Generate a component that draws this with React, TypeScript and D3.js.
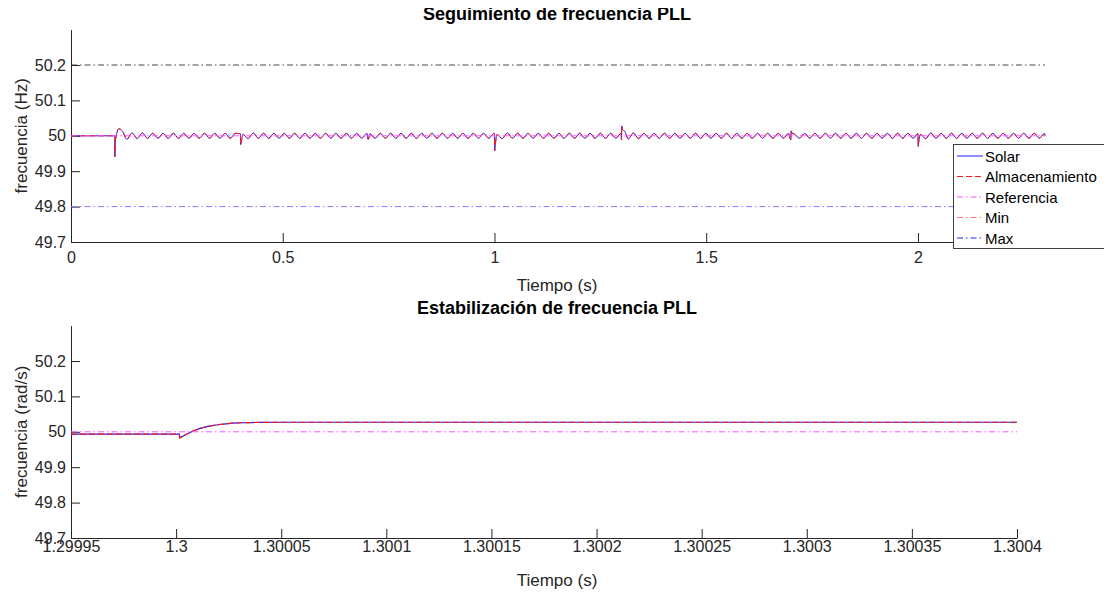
import React, { useEffect, useRef } from "react";
import * as d3 from "d3";

// ---- top panel: PLL frequency tracking ----
const topXTicks = [0, 0.5, 1, 1.5, 2];
const topXLabels = ["0", "0.5", "1", "1.5", "2"];
const yTicks = [49.7, 49.8, 49.9, 50, 50.1, 50.2];
const yTickLabels = ["49.7", "49.8", "49.9", "50", "50.1", "50.2"];

const referenceHz = 50;
const minLimitHz = 49.8;
const maxLimitHz = 50.2;

// disturbances seen on the trace (s) and their shape as [dt s, deviation mHz]
const disturbanceTimes = [0.1, 0.4, 0.7, 1.0, 1.3, 1.7, 2.0];
const disturbanceShapes: [number, number][][] = [
  [[0, 0], [0.0035, 0], [0.0036, -59], [0.0045, -15], [0.0135, 20], [0.022, 12], [0.032, -10]],
  [[0, 6], [0.0005, -25], [0.0015, -20], [0.006, 4]],
  [[0, -4], [0.002, -10], [0.006, 6]],
  [[0, 6], [0.0005, -42], [0.0015, -30], [0.006, 4]],
  [[0, -12], [0.0005, 28], [0.002, 18], [0.008, 12], [0.016, -9]],
  [[0, -12], [0.0005, 14], [0.002, 8], [0.008, 5]],
  [[0, 6], [0.0005, -30], [0.0015, -20], [0.006, 4]],
];
const halfPeriod = 0.0122; // time between turning points of the ripple (s)
// ripple turning points after each disturbance (mHz around 50 Hz)
const rippleSegments: number[][] = [
  [8, -8, 8, -7, 7, -7, 7, -7, 7, -7, 7, -7, 7, -7, 7, -7, 7, -7, 7, -7, 7, -7, 7, -7],
  [-8, 8, -7, 7, -7, 7, -7, 7, -7, 7, -7, 7, -7, 7, -7, 7, -7, 7, -7, 7, -7, 7, -7, 7],
  [-7, 7, -7, 7, -7, 7, -7, 7, -7, 7, -7, 7, -7, 7, -7, 7, -7, 7, -7, 7, -7, 7, -7, 7],
  [-8, 8, -7, 7, -7, 7, -7, 7, -7, 7, -7, 7, -7, 7, -7, 7, -7, 7, -7, 7, -7, 7, -7, 7],
  [8, -8, 7, -7, 7, -7, 7, -7, 7, -7, 7, -7, 7, -7, 7, -7, 7, -7, 7, -7, 7, -7, 7, -7, 7, -7, 7, -7, 7, -7, 7, -7],
  [-7, 7, -7, 7, -7, 7, -7, 7, -7, 7, -7, 7, -7, 7, -7, 7, -7, 7, -7, 7, -7, 7, -7, 7],
  [-8, 8, -7, 7, -7, 7, -7, 7, -7, 7, -7, 7, -7, 7, -7, 7, -7, 7, -7, 7, -7, 7, -7, 7, -7],
];
const topEnd = 2.3;

// ---- bottom panel: zoom on the 1.3 s disturbance ----
const bottomXTicks = [1.29995, 1.3, 1.30005, 1.3001, 1.30015, 1.3002, 1.30025, 1.3003, 1.30035, 1.3004];
const bottomXLabels = ["1.29995", "1.3", "1.30005", "1.3001", "1.30015", "1.3002", "1.30025", "1.3003", "1.30035", "1.3004"];
const zoomTime = [1.29995, 1.3, 1.3000015, 1.3000018, 1.300004, 1.3000076, 1.300011, 1.3000156, 1.30002, 1.3000236, 1.300027, 1.3000311, 1.300035, 1.3000392, 1.30005, 1.3004];
const zoomSolar = [49.9935, 49.9935, 49.9935, 49.983, 49.99, 50.001, 50.009, 50.016, 50.02, 50.0225, 50.0245, 50.0255, 50.026, 50.0265, 50.027, 50.027];
const zoomStorage = zoomSolar; // storage trace lies on the solar one

const legendNames = ["Solar", "Almacenamiento", "Referencia", "Min", "Max"];
const legendColors = ["#1a1aff", "#ff1a1a", "#ff55ff", "#ff7a7a", "#2020ff"];
const legendDashes = ["none", "6,3", "6,3,1.5,3", "6,3,1.5,3", "6,3,1.5,3"];

function buildTopTrace(): [number, number][] {
  const pts: [number, number][] = [[0, referenceHz], [disturbanceTimes[0], referenceHz]];
  disturbanceTimes.forEach((t0, i) => {
    const shape = disturbanceShapes[i];
    shape.forEach(([dt, d]) => pts.push([t0 + dt, referenceHz + d / 1000]));
    let t = t0 + shape[shape.length - 1][0];
    const end = i + 1 < disturbanceTimes.length ? disturbanceTimes[i + 1] : topEnd;
    for (const d of rippleSegments[i]) {
      t += halfPeriod;
      if (t >= end) break;
      pts.push([t, referenceHz + d / 1000]);
    }
  });
  pts.push([topEnd, referenceHz]);
  return pts;
}

const FONT = "'Liberation Sans', Arial, Helvetica, sans-serif";
const AX = "#262626";

export default function App() {
  const svgRef = useRef<SVGSVGElement>(null);

  useEffect(() => {
    const svg = d3.select(svgRef.current);
    svg.selectAll("*").remove();
    svg.append("rect").attr("width", 1112).attr("height", 593).attr("fill", "#fff");

    const drawPanel = (opts: {
      x: d3.ScaleLinear<number, number>;
      y: d3.ScaleLinear<number, number>;
      xTicks: number[];
      xLabels: string[];
      xPad: number;
      title: string;
      titleY: number;
      xLabelY: number;
      yLabel: string;
    }) => {
      const { x, y } = opts;
      const g = svg.append("g");
      const [x0] = x.range();
      const y0 = y.range()[0];

      const xa = g.append("g")
        .attr("transform", `translate(0, ${y0})`)
        .call(d3.axisBottom(x).tickValues(opts.xTicks).tickFormat((_, i) => opts.xLabels[i])
          .tickSizeInner(-9).tickSizeOuter(0).tickPadding(opts.xPad));
      const ya = g.append("g")
        .attr("transform", `translate(${x0}, 0)`)
        .call(d3.axisLeft(y).tickValues(yTicks).tickFormat((_, i) => yTickLabels[i])
          .tickSizeInner(-9).tickSizeOuter(0).tickPadding(5));
      [xa, ya].forEach(a => {
        a.selectAll("path,line").attr("stroke", AX);
        a.selectAll("text").attr("fill", AX).attr("font-size", 16).attr("font-family", FONT);
      });

      g.append("text")
        .attr("x", 557).attr("y", opts.titleY)
        .attr("text-anchor", "middle").attr("font-weight", "bold")
        .attr("font-size", 18).attr("font-family", FONT).attr("fill", "#000")
        .text(opts.title);
      g.append("text")
        .attr("x", 557).attr("y", opts.xLabelY)
        .attr("text-anchor", "middle").attr("font-size", 17).attr("font-family", FONT).attr("fill", AX)
        .text("Tiempo (s)");
      g.append("text")
        .attr("transform", `translate(27, ${y(50)}) rotate(-90)`)
        .attr("text-anchor", "middle").attr("font-size", 17).attr("font-family", FONT).attr("fill", AX)
        .text(opts.yLabel);
      return g;
    };

    // ---------- top panel ----------
    const xTop = d3.scaleLinear().domain([0, topEnd]).range([71, 1045]);
    const yTop = d3.scaleLinear().domain([49.7, 50.3]).range([242, 29.6]);
    const gTop = drawPanel({
      x: xTop, y: yTop, xTicks: topXTicks, xLabels: topXLabels, xPad: 10,
      title: "Seguimiento de frecuencia PLL", titleY: 20, xLabelY: 291,
      yLabel: "frecuencia (Hz)",
    });

    const lineTop = d3.line<[number, number]>().x(d => xTop(d[0])).y(d => yTop(d[1]));
    const traceLine = d3.line<[number, number]>().x(d => xTop(d[0])).y(d => yTop(d[1])).curve(d3.curveMonotoneX);
    const trace = buildTopTrace();
    const hLine = (v: number) => [[0, v], [topEnd, v]] as [number, number][];

    gTop.append("path").datum(hLine(maxLimitHz)).attr("d", lineTop)
      .attr("fill", "none").attr("stroke", "#333").attr("stroke-width", 0.9).attr("stroke-dasharray", "6,3,1.5,3");
    gTop.append("path").datum(hLine(minLimitHz)).attr("d", lineTop)
      .attr("fill", "none").attr("stroke", "#7f7fff").attr("stroke-width", 1).attr("stroke-dasharray", "6,3,1.5,3");
    gTop.append("path").datum(trace).attr("d", traceLine)
      .attr("fill", "none").attr("stroke", legendColors[0]).attr("stroke-width", 1);
    gTop.append("path").datum(trace).attr("d", traceLine)
      .attr("fill", "none").attr("stroke", legendColors[1]).attr("stroke-width", 1).attr("stroke-dasharray", legendDashes[1]);
    gTop.append("path").datum(hLine(referenceHz)).attr("d", lineTop)
      .attr("fill", "none").attr("stroke", legendColors[2]).attr("stroke-width", 1).attr("stroke-dasharray", legendDashes[2]);

    // legend
    const lg = svg.append("g").attr("transform", "translate(953, 144)");
    lg.append("rect").attr("x", 0.5).attr("y", 0.5).attr("width", 151).attr("height", 104)
      .attr("fill", "#fff").attr("stroke", "#404040").attr("stroke-width", 1);
    legendNames.forEach((name, i) => {
      const ly = 12 + i * 20.5;
      lg.append("line").attr("x1", 4).attr("x2", 30).attr("y1", ly).attr("y2", ly)
        .attr("stroke", legendColors[i]).attr("stroke-width", 1)
        .attr("stroke-dasharray", legendDashes[i]);
      lg.append("text").attr("x", 32).attr("y", ly + 5.5)
        .attr("font-size", 15).attr("font-family", FONT).attr("fill", "#000").text(name);
    });

    // ---------- bottom panel ----------
    const xBot = d3.scaleLinear().domain([1.29995, 1.3004]).range([71, 1017]);
    const yBot = d3.scaleLinear().domain([49.7, 50.3]).range([538, 325.6]);
    const gBot = drawPanel({
      x: xBot, y: yBot, xTicks: bottomXTicks, xLabels: bottomXLabels, xPad: 3,
      title: "Estabilización de frecuencia PLL", titleY: 314, xLabelY: 586,
      yLabel: "frecuencia (rad/s)",
    });
    const lineBot = d3.line<number>().x((_, i) => xBot(zoomTime[i])).y(d => yBot(d));
    gBot.append("path").datum(zoomSolar).attr("d", lineBot)
      .attr("fill", "none").attr("stroke", legendColors[0]).attr("stroke-width", 1.2);
    gBot.append("path").datum(zoomStorage).attr("d", lineBot)
      .attr("fill", "none").attr("stroke", legendColors[1]).attr("stroke-width", 1.2).attr("stroke-dasharray", legendDashes[1]);
    gBot.append("line")
      .attr("x1", xBot(1.29995)).attr("x2", xBot(1.3004))
      .attr("y1", yBot(referenceHz)).attr("y2", yBot(referenceHz))
      .attr("stroke", legendColors[2]).attr("stroke-width", 1).attr("stroke-dasharray", legendDashes[2]);
  }, []);

  return (
    <div style={{ width: 1112, height: 593 }}>
      <svg ref={svgRef} width={1112} height={593} style={{ display: "block", marginLeft: -8, marginTop: -8 }} />
    </div>
  );
}
